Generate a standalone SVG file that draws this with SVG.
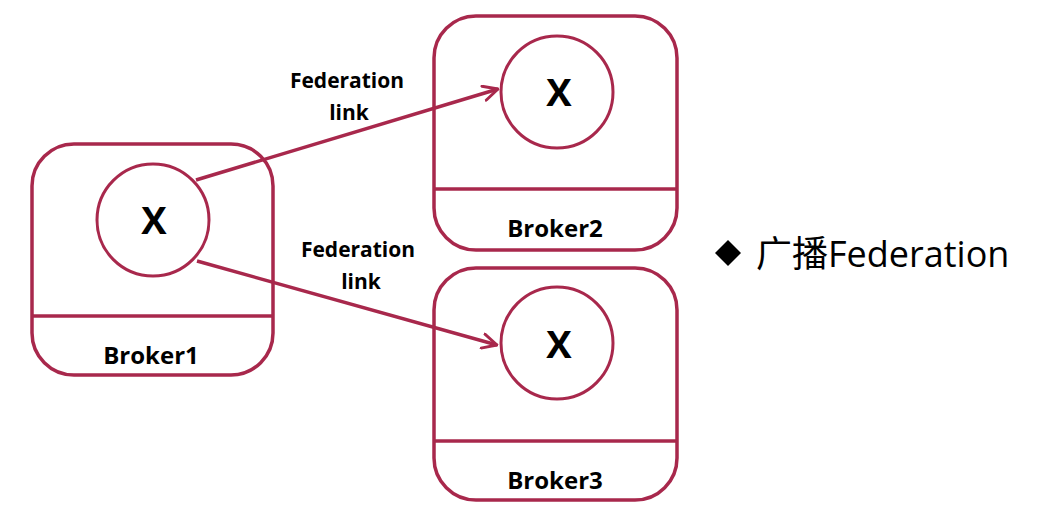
<svg xmlns="http://www.w3.org/2000/svg" width="1056" height="514" viewBox="0 0 1056 514">
<style>
.box{fill:#ffffff;stroke:#a8284c;stroke-width:3.5}
.div{stroke:#a8284c;stroke-width:3.5}
.ex{fill:#ffffff;stroke:#a8284c;stroke-width:3}
.x{font-family:"Open Sans","DejaVu Sans",sans-serif;font-weight:bold;font-size:38px;fill:#000;text-anchor:middle}
.bl{font-family:"Open Sans","DejaVu Sans",sans-serif;font-weight:bold;font-size:24px;fill:#000;text-anchor:middle}
.fl{font-family:"Open Sans","DejaVu Sans",sans-serif;font-weight:bold;font-size:21px;fill:#000;text-anchor:middle}
.conn{stroke:#a8284c;stroke-width:3.5;fill:none;marker-end:url(#ah)}
.note{font-family:"Open Sans","Noto Sans CJK SC",sans-serif;font-size:36px;fill:#000}
</style>
<defs>
<marker id="ah" viewBox="0 0 12 12" refX="11" refY="6" markerWidth="5" markerHeight="5" orient="auto" markerUnits="strokeWidth">
<path d="M1,1 L11,6 L1,11" fill="none" stroke="#a8284c" stroke-width="2" stroke-linecap="round" stroke-linejoin="round"/>
</marker>
</defs>
<rect width="1056" height="514" fill="#ffffff"/>
<g id="broker1">
<rect class="box" x="32" y="144" width="241" height="231" rx="42"/>
<line class="div" x1="32" y1="316" x2="273" y2="316"/>
<circle class="ex" cx="153" cy="220" r="56"/>
<text class="x" x="154" y="234">X</text>
<text class="bl" x="151" y="364">Broker1</text>
</g>
<g id="broker2">
<rect class="box" x="434" y="16" width="243" height="234" rx="42"/>
<line class="div" x1="434" y1="189" x2="677" y2="189"/>
<circle class="ex" cx="557" cy="92" r="56"/>
<text class="x" x="559" y="106">X</text>
<text class="bl" x="555" y="237">Broker2</text>
</g>
<g id="broker3">
<rect class="box" x="434" y="268" width="243" height="232" rx="42"/>
<line class="div" x1="434" y1="441" x2="677" y2="441"/>
<circle class="ex" cx="557" cy="343" r="56"/>
<text class="x" x="559" y="358">X</text>
<text class="bl" x="555" y="489">Broker3</text>
</g>
<g id="connectors">
<line class="conn" x1="196" y1="180" x2="498" y2="89"/>
<line class="conn" x1="197" y1="261" x2="497" y2="345"/>
</g>
<g id="labels">
<text class="fl" x="347" y="88">Federation</text>
<text class="fl" x="349" y="120">link</text>
<text class="fl" x="358" y="257">Federation</text>
<text class="fl" x="361" y="289">link</text>
</g>
<g id="note">
<path d="M728,240 L741,253 L728,266 L715,253 Z" fill="#000"/>
<text class="note" x="756" y="267">广播Federation</text>
</g>
</svg>
